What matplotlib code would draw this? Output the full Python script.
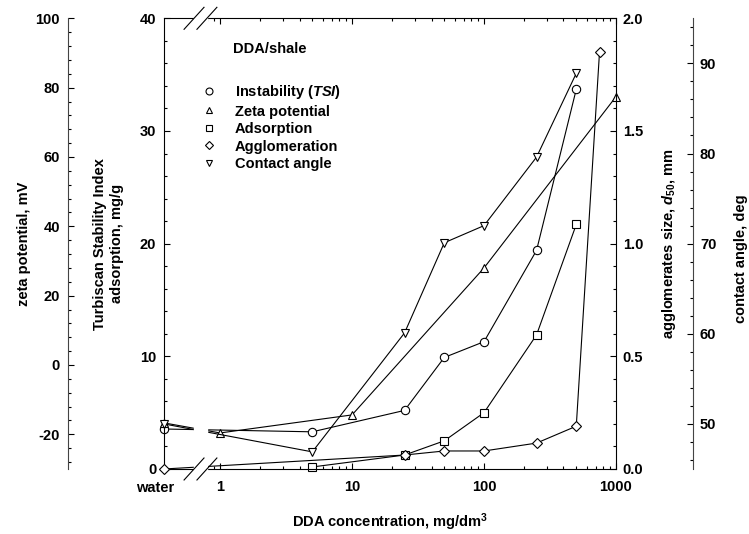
import numpy as np
import matplotlib
matplotlib.use('Agg')
import matplotlib.pyplot as plt
from matplotlib.lines import Line2D
from matplotlib.ticker import FixedLocator, NullFormatter, MultipleLocator, FormatStrFormatter

plt.rcParams['font.family'] = ['Liberation Sans', 'DejaVu Sans']
plt.rcParams['font.weight'] = 'bold'
plt.rcParams['font.size'] = 10.5
plt.rcParams['axes.unicode_minus'] = False
plt.rcParams['mathtext.fontset'] = 'custom'
plt.rcParams['mathtext.rm'] = 'Liberation Sans:bold'
plt.rcParams['mathtext.it'] = 'Liberation Sans:bold:italic'
plt.rcParams['mathtext.bf'] = 'Liberation Sans:bold'


############################################# Data ####################################################################
WATER = 0.376  # plotting position of the "water" sample, left of the axis break

tsi_x  = [WATER, 5, 25, 50, 100, 250, 500]            # Instability (TSI), mg/dm3
tsi_y  = [3.55, 3.3, 5.2, 9.9, 11.3, 19.4, 33.7]

zeta_x = [WATER, 1, 10, 100, 1000]                    # Zeta potential
zeta_y = [-16.7, -19.6, -14.4, 28.0, 77.4]            # mV

ads_x  = [5, 25, 50, 100, 250, 500]                   # Adsorption
ads_y  = [0.18, 1.24, 2.5, 5.0, 11.9, 21.7]           # mg/g

agg_x  = [WATER, 25, 50, 100, 250, 500, 750]          # Agglomeration
agg_y  = [0.0, 0.062, 0.08, 0.08, 0.115, 0.19, 1.85]  # d50, mm

ca_x   = [WATER, 5, 25, 50, 100, 250, 500]            # Contact angle
ca_y   = [50.0, 46.9, 60.1, 70.1, 72.0, 79.6, 88.9]   # deg

legend_labels = ['Instability ($\\mathit{TSI}$)', 'Zeta potential', 'Adsorption',
                 'Agglomeration', 'Contact angle']

x_major = [1, 10, 100, 1000]
x_major_labels = ['1', '10', '100', '1000']
x_minor = [0.8, 0.9] + [m * 10.0**e for e in range(0, 3) for m in range(2, 10)]

GAP = (0.635, 0.795)  # broken part of the x axis


##################################################### Figure ##########################################################
fig = plt.figure(figsize=(7.49, 5.34), dpi=100)
ax = fig.add_axes([164/749, 65/534, 452/749, 450.7/534])
ax_z = ax.twinx()
ax_a = ax.twinx()
ax_c = ax.twinx()

line_kw = dict(color='black', lw=0.8, mfc='white', mec='black', mew=0.8, clip_on=False)
ax.plot(tsi_x, tsi_y, marker='o', ms=6, **line_kw)
ax.plot(ads_x, ads_y, marker='s', ms=5.8, **line_kw)
ax_z.plot(zeta_x, zeta_y, marker='^', ms=6, **line_kw)
ax_a.plot(agg_x, agg_y, marker='D', ms=5, **line_kw)
ax_c.plot(ca_x, ca_y, marker='v', ms=6, **line_kw)

# main axis (TSI / adsorption)
ax.set_xscale('log')
ax.set_ylim(0, 40)
ax.yaxis.set_major_locator(MultipleLocator(10))
ax.yaxis.set_minor_locator(MultipleLocator(2))
ax.spines['right'].set_visible(False)
ax.xaxis.set_major_locator(FixedLocator(x_major))
ax.xaxis.set_major_formatter(plt.FixedFormatter(x_major_labels))
ax.xaxis.set_minor_locator(FixedLocator(x_minor))
ax.xaxis.set_minor_formatter(NullFormatter())
ax.tick_params(axis='x', which='both', direction='in', top=True, width=0.8, pad=8)
ax.tick_params(axis='x', which='major', length=4.5)
ax.tick_params(axis='x', which='minor', length=2.5)
ax.tick_params(axis='y', which='both', direction='in', right=False, width=0.8, pad=5.5)
ax.tick_params(axis='y', which='major', length=4.5)
ax.tick_params(axis='y', which='minor', length=2.5)

# zeta potential axis, far left
ax_z.set_ylim(-30, 100)
ax_z.spines['left'].set_position(('axes', -0.2124))
ax_z.spines['left'].set_color('#444444')
for s in ['right', 'top', 'bottom']:
    ax_z.spines[s].set_visible(False)
ax_z.yaxis.set_ticks_position('left')
ax_z.yaxis.set_major_locator(MultipleLocator(20))
ax_z.yaxis.set_minor_locator(MultipleLocator(4))
ax_z.tick_params(axis='y', which='both', direction='in', width=0.8, pad=5.8)
ax_z.tick_params(axis='y', which='major', length=4.5)
ax_z.tick_params(axis='y', which='minor', length=2.5)

# agglomerate size axis, right
ax_a.set_ylim(0, 2)
for s in ['left', 'top', 'bottom']:
    ax_a.spines[s].set_visible(False)
ax_a.yaxis.set_major_locator(MultipleLocator(0.5))
ax_a.yaxis.set_minor_locator(MultipleLocator(0.1))
ax_a.yaxis.set_major_formatter(FormatStrFormatter('%.1f'))
ax_a.tick_params(axis='y', which='both', direction='in', width=0.8, pad=4.8)
ax_a.tick_params(axis='y', which='major', length=4.5)
ax_a.tick_params(axis='y', which='minor', length=2.5)

# contact angle axis, far right
ax_c.set_ylim(45, 95)
ax_c.spines['right'].set_position(('axes', 1.1704))
ax_c.spines['right'].set_color('#444444')
for s in ['left', 'top', 'bottom']:
    ax_c.spines[s].set_visible(False)
ax_c.yaxis.set_major_locator(MultipleLocator(10))
ax_c.yaxis.set_minor_locator(MultipleLocator(2))
ax_c.tick_params(axis='y', which='both', direction='in', width=0.8, pad=5)
ax_c.tick_params(axis='y', which='major', length=4.5)
ax_c.tick_params(axis='y', which='minor', length=2.5)

# axis break: blank strip plus two slashes top and bottom
ax_c.axvspan(GAP[0], GAP[1], ymin=-0.03, ymax=1.03, color='white', zorder=10, clip_on=False)
trans = ax_c.get_xaxis_transform()
for g in GAP:
    for yb in (0, 1):
        ax_c.plot([g / 1.19, g * 1.19], [yb - 0.0244, yb + 0.0244], transform=trans,
                  color='black', lw=0.8, clip_on=False, zorder=11)

ax.set_xlim(WATER, 1000)
ax_c.set_xlim(WATER, 1000)

ax.annotate('water', xy=(WATER, 0), xycoords=ax.get_xaxis_transform(),
            xytext=(-6.5, -8.5), textcoords='offset points', ha='center', va='top')

# axis labels
ax.text(0.5, -0.1176, 'DDA concentration, mg/dm$^3$', transform=ax.transAxes, ha='center', va='center')
ax.text(-0.309, 0.5, 'zeta potential, mV', transform=ax.transAxes, rotation=90, ha='center', va='center')
ax.text(-0.1235, 0.5, 'Turbiscan Stability Index\nadsorption, mg/g', transform=ax.transAxes,
        rotation=90, ha='center', va='center', multialignment='center', linespacing=1.3)
ax.text(1.1173, 0.5, 'agglomerates size, $\\mathit{d}_{50}$, mm', transform=ax.transAxes,
        rotation=90, ha='center', va='center')
ax.text(1.2765, 0.466, 'contact angle, deg', transform=ax.transAxes, rotation=90, ha='center', va='center')

# legend
ax.text(0.1527, 0.9319, 'DDA/shale', transform=ax.transAxes, ha='left', va='center')
handles = [Line2D([], [], ls='none', marker=m, ms=ms, mfc='white', mec='black', mew=0.8)
           for m, ms in zip(['o', '^', 's', 'D', 'v'], [5, 5, 5, 4, 5])]
leg = ax_c.legend(handles, legend_labels, loc='upper left', bbox_to_anchor=(0.0834, 0.8564),
                  frameon=False, handlelength=1.0, handletextpad=1.28, labelspacing=0.24,
                  borderpad=0, borderaxespad=0, fontsize=10.5)
leg.set_zorder(12)

plt.savefig('out.png', dpi=100)
